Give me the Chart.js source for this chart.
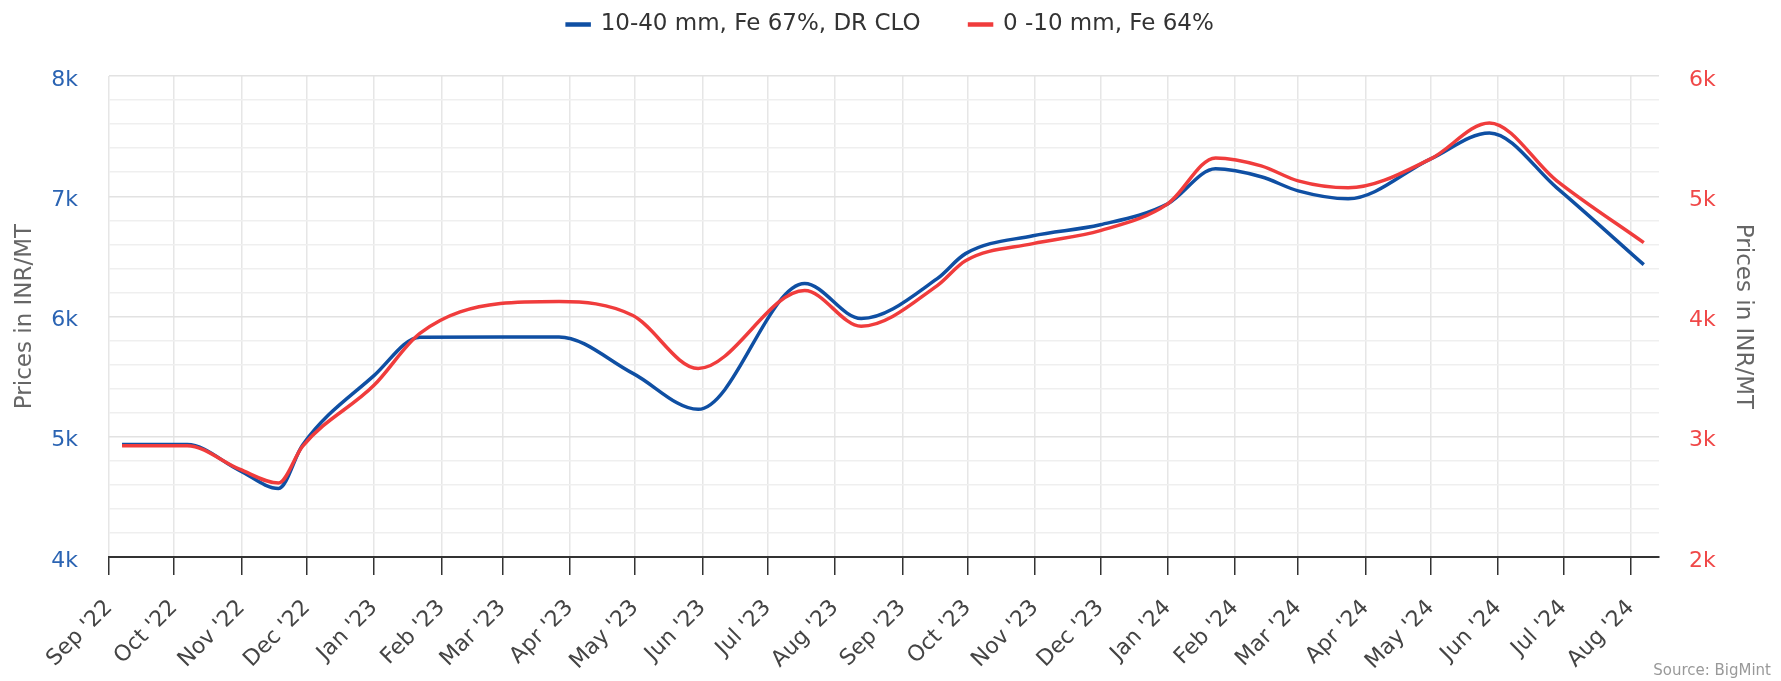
<!DOCTYPE html>
<html>
<head>
<meta charset="utf-8">
<script src="https://cdn.jsdelivr.net/npm/chart.js@4.4.1/dist/chart.umd.min.js"></script>
<style>
  html, body { margin: 0; padding: 0; background: #fff; }
  #wrap { width: 1781px; height: 681px; position: relative; }
</style>
</head>
<body>
<div id="wrap"><canvas id="priceChart"></canvas></div>
<script>
// axis range and month tick labels
const startDate = '2022-09-01';
const endDate = '2024-08-14';
const monthLabels = ["Sep '22", "Oct '22", "Nov '22", "Dec '22", "Jan '23", "Feb '23", "Mar '23", "Apr '23",
  "May '23", "Jun '23", "Jul '23", "Aug '23", "Sep '23", "Oct '23", "Nov '23", "Dec '23",
  "Jan '24", "Feb '24", "Mar '24", "Apr '24", "May '24", "Jun '24", "Jul '24", "Aug '24"];

const dates = ['2022-09-07', '2022-10-07', '2022-10-31', '2022-11-18', '2022-11-29', '2023-01-01',
  '2023-01-22', '2023-02-28', '2023-03-27', '2023-04-30', '2023-05-30', '2023-07-18', '2023-08-13',
  '2023-09-17', '2023-09-30', '2023-10-31', '2023-12-01', '2024-01-01', '2024-01-23', '2024-02-13',
  '2024-03-01', '2024-03-24', '2024-05-01', '2024-05-28', '2024-06-28', '2024-08-07'];
const cloPrices = [4935, 4935, 4720, 4570, 4930, 5510, 5828, 5830, 5830, 5527, 5228, 6274, 5983,
  6315, 6523, 6672, 6763, 6937, 7228, 7162, 7045, 6979, 7311, 7527, 7070, 6431];
const finesPrices = [2925, 2925, 2730, 2615, 2920, 3430, 3860, 4108, 4125, 4008, 3568, 4216, 3919,
  4257, 4464, 4606, 4714, 4937, 5319, 5253, 5128, 5070, 5311, 5610, 5128, 4614];

const BLUE = '#0f4fa3';
const RED = '#f03c3c';
const FONT = '"DejaVu Sans", sans-serif';

const DAY = 86400000;
function dayOf(iso) {
  const [y, m, d] = iso.split('-').map(Number);
  const [y0, m0, d0] = startDate.split('-').map(Number);
  return Math.round((Date.UTC(y, m - 1, d) - Date.UTC(y0, m0 - 1, d0)) / DAY);
}

// month start positions for the ticks
const tickDays = monthLabels.map((_, i) => {
  const [y0, m0] = startDate.split('-').map(Number);
  return Math.round((Date.UTC(y0, m0 - 1 + i, 1) - Date.UTC(y0, m0 - 1, 1)) / DAY);
});

Chart.defaults.font.family = FONT;

// adds room between legend and plot
const legendSpacer = {
  id: 'legendSpacer',
  beforeInit(chart) {
    const fit = chart.legend.fit;
    chart.legend.fit = function () {
      fit.call(this);
      this.height += 30;
    };
  }
};

const sourceNote = {
  id: 'sourceNote',
  afterDraw(chart) {
    const ctx = chart.ctx;
    ctx.save();
    ctx.font = '15px ' + FONT;
    ctx.fillStyle = '#999';
    ctx.textAlign = 'right';
    ctx.textBaseline = 'middle';
    ctx.fillText('Source: BigMint', chart.width - 10, chart.height - 10);
    ctx.restore();
  }
};

new Chart(document.getElementById('priceChart'), {
  type: 'line',
  data: {
    datasets: [{
      label: '10-40 mm, Fe 67%, DR CLO',
      data: dates.map((d, i) => ({ x: dayOf(d), y: cloPrices[i] })),
      borderColor: BLUE,
      backgroundColor: BLUE,
      borderWidth: 3.5,
      pointRadius: 0,
      cubicInterpolationMode: 'monotone',
      yAxisID: 'y',
      order: 1
    }, {
      label: '0 -10 mm, Fe 64%',
      data: dates.map((d, i) => ({ x: dayOf(d), y: finesPrices[i] })),
      borderColor: RED,
      backgroundColor: RED,
      borderWidth: 3.5,
      pointRadius: 0,
      cubicInterpolationMode: 'monotone',
      yAxisID: 'y1',
      order: 0
    }]
  },
  options: {
    responsive: true,
    maintainAspectRatio: false,
    animation: false,
    layout: { padding: { top: -36, left: 0, right: 0, bottom: 0 } },
    plugins: {
      legend: {
        position: 'top',
        labels: {
          boxWidth: 22,
          boxHeight: 1,
          padding: 49,
          color: '#333',
          font: { size: 23 },
          sort: (a, b) => a.datasetIndex - b.datasetIndex
        }
      },
      tooltip: { enabled: false }
    },
    scales: {
      x: {
        type: 'linear',
        min: 0,
        max: dayOf(endDate),
        afterBuildTicks: scale => { scale.ticks = tickDays.map(v => ({ value: v })); },
        afterFit: scale => { scale.height = 124; },
        grid: { color: '#e6e6e6', lineWidth: 1.5, tickColor: '#333', tickLength: 18, tickWidth: 1.5 },
        border: { color: '#333', width: 2 },
        ticks: {
          autoSkip: false,
          minRotation: 45,
          maxRotation: 45,
          padding: 20,
          color: '#444',
          font: { size: 22 },
          callback: (v, i) => monthLabels[i]
        }
      },
      y: {
        position: 'left',
        min: 4000,
        max: 8000,
        afterFit: scale => { scale.width = 109; },
        border: { display: false },
        grid: {
          drawTicks: false,
          lineWidth: 1.5,
          color: c => (c.tick && c.tick.value % 1000 === 0) ? '#e2e2e2' : '#efefef'
        },
        ticks: {
          stepSize: 200,
          autoSkip: false,
          padding: 31,
          labelOffset: 4,
          color: '#2b64b3',
          font: { size: 22 },
          callback: v => (v % 1000 === 0 ? (v / 1000) + 'k' : '')
        },
        title: { display: true, text: 'Prices in INR/MT', color: '#666', font: { size: 23 }, padding: { top: 11, bottom: 0 } }
      },
      y1: {
        position: 'right',
        min: 2000,
        max: 6000,
        afterFit: scale => { scale.width = 122; },
        border: { display: false },
        grid: { display: false, drawTicks: false },
        ticks: {
          stepSize: 1000,
          padding: 30,
          labelOffset: 4,
          color: '#f04848',
          font: { size: 22 },
          callback: v => (v / 1000) + 'k'
        },
        title: { display: true, text: 'Prices in INR/MT', color: '#666', font: { size: 23 }, padding: { top: 24, bottom: 0 } }
      }
    }
  },
  plugins: [legendSpacer, sourceNote]
});
</script>
</body>
</html>
